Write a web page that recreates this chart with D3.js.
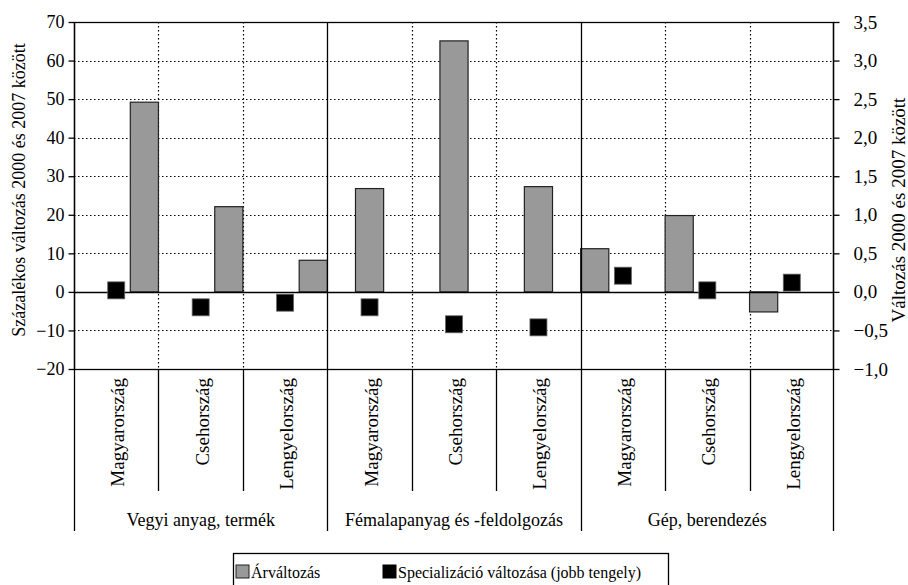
<!DOCTYPE html>
<html>
<head>
<meta charset="utf-8">
<script src="https://cdn.jsdelivr.net/npm/d3@7"></script>
<style>
  body { margin: 0; background: #fff; }
  text { font-family: "Liberation Serif", "Times New Roman", serif; fill: #000; }
</style>
</head>
<body>
<svg id="chart" width="908" height="585"></svg>
<script>
// data
var groups = ["Vegyi anyag, termék", "Fémalapanyag és -feldolgozás", "Gép, berendezés"];
var countries = ["Magyarország", "Csehország", "Lengyelország"];
var arvaltozas = [49.2, 22.1, 8.2, 26.8, 65.1, 27.3, 11.2, 19.8, -5.2];      // left axis, %
var specializacio = [0.02, -0.2, -0.14, -0.2, -0.42, -0.46, 0.21, 0.02, 0.12]; // right axis
var leftTicks = [-20, -10, 0, 10, 20, 30, 40, 50, 60, 70];
var rightTicks = [-1.0, -0.5, 0, 0.5, 1.0, 1.5, 2.0, 2.5, 3.0, 3.5];
var barSlot = [2, 1, 0]; // which third of the category the bar sits in, per group

var svg = d3.select("#chart");
var pL = 74, pR = 834, pT = 22, pB = 369;

var cats = [];
groups.forEach(function(g, gi){
  countries.forEach(function(c, ci){
    cats.push({group: g, gi: gi, country: c, i: gi * 3 + ci});
  });
});

var x = d3.scaleBand().domain(cats.map(d => d.i)).range([pL, pR]).padding(0);
var slot = d3.scaleBand().domain([0, 1, 2]).range([0, x.bandwidth()]).padding(0);
var yL = d3.scaleLinear().domain([-20, 70]).range([pB, pT]);
var yR = d3.scaleLinear().domain([-1, 3.5]).range([pB, pT]);

var fmtR = function(v){ return d3.format(".1f")(v).replace(".", ",").replace("-", "\u2212"); };
var fmtL = function(v){ return String(v).replace("-", "\u2212"); };

// horizontal dotted grid
svg.append("g").selectAll("line").data(leftTicks.filter(v => v != 0 && v != 70 && v != -20))
  .join("line")
  .attr("x1", pL).attr("x2", pR)
  .attr("y1", d => Math.round(yL(d)) + 0.5).attr("y2", d => Math.round(yL(d)) + 0.5)
  .attr("stroke", "#000").attr("stroke-width", 1.2).attr("stroke-dasharray", "1.5,2.5");

// vertical dotted grid inside groups
var inner = cats.filter(d => d.i % 3 != 0);
svg.append("g").selectAll("line").data(inner).join("line")
  .attr("x1", d => Math.round(x(d.i)) + 0.5).attr("x2", d => Math.round(x(d.i)) + 0.5)
  .attr("y1", pT).attr("y2", pB)
  .attr("stroke", "#000").attr("stroke-width", 1.2).attr("stroke-dasharray", "1.5,2.5");

// bars
svg.append("g").selectAll("rect").data(cats).join("rect")
  .attr("x", d => x(d.i) + slot(barSlot[d.gi]))
  .attr("width", slot.bandwidth())
  .attr("y", d => yL(Math.max(0, arvaltozas[d.i])))
  .attr("height", d => Math.abs(yL(arvaltozas[d.i]) - yL(0)))
  .attr("fill", "#999999").attr("stroke", "#222").attr("stroke-width", 1.2);

// zero line
svg.append("line").attr("x1", pL).attr("x2", pR)
  .attr("y1", Math.round(yL(0)) + 0.5).attr("y2", Math.round(yL(0)) + 0.5)
  .attr("stroke", "#000").attr("stroke-width", 1.3);

// markers
var ms = 17;
svg.append("g").selectAll("rect").data(cats).join("rect")
  .attr("x", d => x(d.i) + x.bandwidth() / 2 - ms / 2)
  .attr("y", d => yR(specializacio[d.i]) - ms / 2)
  .attr("width", ms).attr("height", ms)
  .attr("fill", "#000").attr("stroke", "#666").attr("stroke-width", 0.8);

// frame
svg.append("rect").attr("x", pL + 0.5).attr("y", pT + 0.5)
  .attr("width", pR - pL - 1).attr("height", pB - pT)
  .attr("fill", "none").attr("stroke", "#000").attr("stroke-width", 1.3);

// axes
var axL = d3.axisLeft(yL).tickValues(leftTicks).tickSize(6).tickPadding(4).tickFormat(fmtL);
var gL = svg.append("g").attr("transform", "translate(" + (pL + 0.5) + ",0)").call(axL);
var axR = d3.axisRight(yR).tickValues(rightTicks).tickSize(6).tickPadding(14).tickFormat(fmtR);
var gR = svg.append("g").attr("transform", "translate(" + (pR - 0.5) + ",0)").call(axR);
[gL, gR].forEach(function(g){
  g.select(".domain").remove();
  g.selectAll("line").attr("stroke", "#000").attr("stroke-width", 1.3);
  g.selectAll("text").attr("font-family", "Liberation Serif").attr("fill", "#000");
});
gL.selectAll("text").attr("font-size", 18);
gR.selectAll("text").attr("font-size", 19);

// category separators below plot
var seps = d3.range(0, cats.length + 1);
svg.append("g").selectAll("line").data(seps).join("line")
  .attr("x1", d => Math.round(d < cats.length ? x(d) : pR) + (d == cats.length ? -0.5 : 0.5))
  .attr("x2", d => Math.round(d < cats.length ? x(d) : pR) + (d == cats.length ? -0.5 : 0.5))
  .attr("y1", d => d % 3 == 0 ? pT : pB)
  .attr("y2", d => d % 3 == 0 ? 531 : 491)
  .attr("stroke", "#000").attr("stroke-width", 1.3);

// country labels
svg.append("g").selectAll("text").data(cats).join("text")
  .attr("transform", d => "translate(" + (x(d.i) + x.bandwidth() / 2 + 8) + ",378) rotate(-90)")
  .attr("text-anchor", "end").attr("font-size", 19)
  .text(d => d.country);

// group labels
svg.append("g").selectAll("text").data(groups).join("text")
  .attr("x", (d, gi) => x(gi * 3) + x.bandwidth() * 1.5)
  .attr("y", 526).attr("text-anchor", "middle").attr("font-size", 18)
  .text(d => d);

// axis titles
svg.append("text").attr("transform", "translate(25,190) rotate(-90)")
  .attr("text-anchor", "middle").attr("font-size", 18)
  .text("Százalékos változás 2000 és 2007 között");
svg.append("text").attr("transform", "translate(905,210) rotate(-90)")
  .attr("text-anchor", "middle").attr("font-size", 19)
  .text("Változás 2000 és 2007 között");

// legend
var lg = svg.append("g");
lg.append("rect").attr("x", 233.5).attr("y", 553.5).attr("width", 435).attr("height", 40)
  .attr("fill", "none").attr("stroke", "#000").attr("stroke-width", 1.3);
var legendItems = [
  {label: "Árváltozás", fill: "#999999", stroke: "#222", x: 236},
  {label: "Specializáció változása (jobb tengely)", fill: "#000", stroke: "#000", x: 383}
];
legendItems.forEach(function(it){
  lg.append("rect").attr("x", it.x).attr("y", 565).attr("width", 13).attr("height", 13)
    .attr("fill", it.fill).attr("stroke", it.stroke).attr("stroke-width", 1);
  lg.append("text").attr("x", it.x + 15).attr("y", 578).attr("font-size", 16).text(it.label);
});
</script>
</body>
</html>
